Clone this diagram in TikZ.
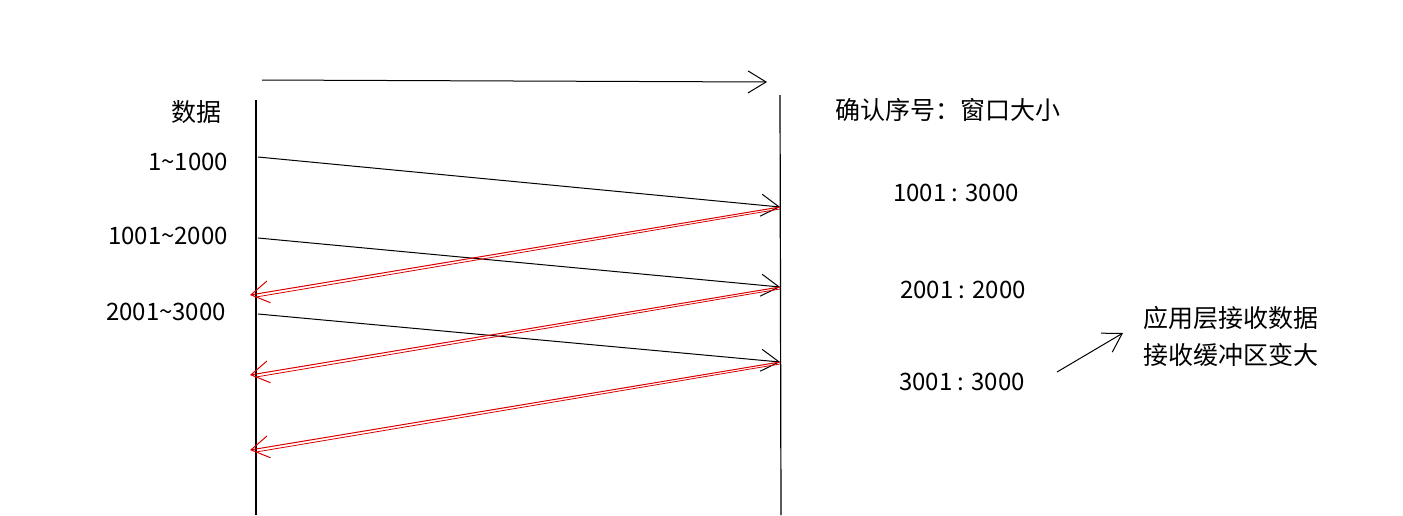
\documentclass[tikz,border=0pt]{standalone}
\usepackage{fontspec}
\setmainfont{Noto Sans CJK SC}
\usetikzlibrary{arrows.meta}
\begin{document}
\begin{tikzpicture}[x=1pt,y=-1pt,
  ln/.style={line width=1.2pt,black},
  blk/.style={line width=1pt,black,-{Straight Barb[length=18pt,width=22pt]}},
  rd/.style={line width=1pt,red!85!black,-{Straight Barb[length=18pt,width=22pt]}},
  lbl/.style={font=\fontsize{24}{28}\selectfont,inner sep=0pt},
  cn/.style={font=\fontsize{25}{30}\selectfont,inner sep=0pt}]
\useasboundingbox (0,0) rectangle (1403,515);
\coordinate (L0) at (256,100); \coordinate (L1) at (256,515);
\coordinate (R0) at (780,95); \coordinate (R1) at (781,515);
\draw[ln] (L0) -- (L1);
\draw[ln] (R0) -- (R1);
\coordinate (T0) at (262,80); \coordinate (T1) at (767,82);
\draw[blk] (T0) -- (T1);
\coordinate (a1) at (258,157); \coordinate (b1) at (780,207);
\coordinate (a2) at (258,238); \coordinate (b2) at (780,287);
\coordinate (a3) at (258,314); \coordinate (b3) at (780,362);
\coordinate (c1) at (250,295); \coordinate (c2) at (250,375); \coordinate (c3) at (250,450);
\draw[blk] (a1) -- (b1);
\draw[blk] (a2) -- (b2);
\draw[blk] (a3) -- (b3);
\draw[rd] (b1) -- (c1); \draw[red!85!black,line width=0.8pt] ([yshift=-2]b1) -- ([yshift=-2,xshift=6]c1);
\draw[rd] (b2) -- (c2); \draw[red!85!black,line width=0.8pt] ([yshift=-2]b2) -- ([yshift=-2,xshift=6]c2);
\draw[rd] (b3) -- (c3); \draw[red!85!black,line width=0.8pt] ([yshift=-2]b3) -- ([yshift=-2,xshift=6]c3);
\node[cn] (sj) at (196,112) {数据};
\node[lbl] (d1) at (188,162) {1\textasciitilde1000};
\node[lbl] (d2) at (168,236) {1001\textasciitilde2000};
\node[lbl] (d3) at (166,312) {2001\textasciitilde3000};
\node[cn] (hd) at (948,110) {确认序号：窗口大小};
\node[lbl] (r1) at (956,193) {1001 : 3000};
\node[lbl] (r2) at (963,290) {2001 : 2000};
\node[lbl] (r3) at (962,382) {3001 : 3000};
\node[cn,anchor=west] (n1) at (1143,318) {应用层接收数据};
\node[cn,anchor=west] (n2) at (1143,355) {接收缓冲区变大};
\coordinate (p0) at (1057,372); \coordinate (p1) at (1123,333);
\draw[blk] (p0) -- (p1);
\end{tikzpicture}
\end{document}
